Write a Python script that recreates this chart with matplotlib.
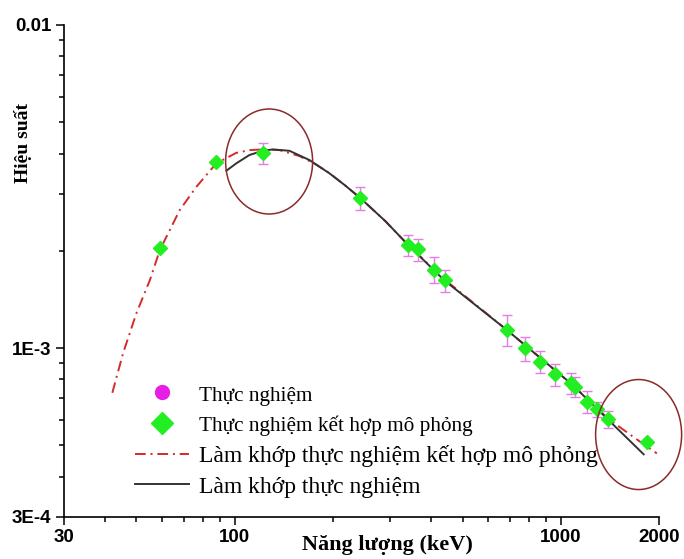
import matplotlib
matplotlib.use("Agg")
import matplotlib.pyplot as plt
from matplotlib.patches import Ellipse
from matplotlib.lines import Line2D
import numpy as np

# green diamonds: experiment combined with simulation (keV, efficiency)
E_comb = [59.0, 87.9, 122.0, 243.0, 341, 366, 409, 441, 685, 774, 861,
          957, 1078, 1109, 1204, 1292, 1395, 1837]
eff_comb = [2.04e-3, 3.77e-3, 4.01e-3, 2.91e-3, 2.08e-3, 2.02e-3, 1.75e-3,
            1.62e-3, 1.14e-3, 9.98e-4, 9.07e-4, 8.29e-4, 7.77e-4, 7.59e-4,
            6.82e-4, 6.46e-4, 6.02e-4, 5.13e-4]

# magenta circles: experiment, with relative uncertainty (%)
E_exp = [122.0, 243.0, 341, 366, 409, 441, 685, 774, 861, 957, 1078, 1109,
         1204, 1292, 1395]
eff_exp = [4.01e-3, 2.91e-3, 2.08e-3, 2.02e-3, 1.75e-3, 1.62e-3, 1.14e-3,
           9.98e-4, 9.07e-4, 8.29e-4, 7.77e-4, 7.59e-4, 6.82e-4, 6.46e-4,
           6.02e-4]
err_pct = [7.4, 8, 7.4, 8, 9, 8, 11, 8.4, 8, 8, 7.4, 7, 8, 5.5, 6]

# fitted curve: experiment + simulation (red dash-dot)
E_fit_comb = [42.2, 45.5, 50.0, 55.0, 59.0, 63.3, 67.9, 76.4, 87.9, 101.2,
              111.1, 122.1, 137.3, 158, 176, 195.3, 218, 242.9, 290, 340.5,
              438.7, 683.8, 1080.6, 1402, 1672, 1970]
eff_fit_comb = [7.27e-4, 9.63e-4, 1.281e-3, 1.623e-3, 2.011e-3, 2.319e-3,
                2.674e-3, 3.158e-3, 3.73e-3, 4.02e-3, 4.10e-3, 4.12e-3,
                4.10e-3, 3.93e-3, 3.72e-3, 3.48e-3, 3.19e-3, 2.913e-3,
                2.47e-3, 2.085e-3, 1.635e-3, 1.137e-3, 7.73e-4, 6.03e-4,
                5.30e-4, 4.72e-4]

# fitted curve: experiment only (black)
E_fit_exp = [94.4, 101.2, 111.1, 122.1, 131, 147.3, 169.6, 195.3, 218,
             242.9, 290, 340.5, 438.7, 683.8, 1080.6, 1402, 1795]
eff_fit_exp = [3.54e-3, 3.73e-3, 3.96e-3, 4.08e-3, 4.12e-3, 4.08e-3, 3.82e-3,
               3.475e-3, 3.19e-3, 2.913e-3, 2.47e-3, 2.085e-3, 1.623e-3,
               1.137e-3, 7.73e-4, 5.98e-4, 4.69e-4]

# highlighted regions (centre in data units, size in pixels)
circle_centres = [(127.6, 3.78e-3), (1732, 5.40e-4)]
circle_sizes = [(87, 105), (86, 110)]

labels = ["Thực nghiệm", "Thực nghiệm kết hợp mô phỏng",
          "Làm khớp thực nghiệm kết hợp mô phỏng", "Làm khớp thực nghiệm"]

x_ticks = [30, 100, 1000, 2000]
x_ticklabels = ["30", "100", "1000", "2000"]
y_ticks = [3e-4, 1e-3, 1e-2]
y_ticklabels = ["3E-4", "1E-3", "0.01"]

W, H = 684, 559
fig = plt.figure(figsize=(W / 100, H / 100), dpi=100)
ax = fig.add_axes([64 / W, 1 - 517 / H, 595 / W, 492 / H])

c_red = "#d42a2a"
c_green = "#22ee22"
c_mag = "#e61ee6"
c_err = "#e47ee4"
dashdot = (0, (5.5, 2.5, 1, 2.5))

ax.plot(E_fit_comb, eff_fit_comb, color=c_red, lw=1.4, linestyle=dashdot,
        zorder=2)
ax.plot(E_fit_exp, eff_fit_exp, color="#333333", lw=1.4, zorder=3)

err = np.array(eff_exp) * np.array(err_pct) / 100
ax.errorbar(E_exp, eff_exp, yerr=err, fmt="o", color=c_mag, ms=6,
            ecolor=c_err, elinewidth=1, capsize=3.5, capthick=1, zorder=4)
ax.plot(E_comb, eff_comb, "D", color=c_green, ms=7, mec=c_green, zorder=5)

ax.set_xscale("log")
ax.set_yscale("log")
ax.set_xlim(30, 2000)
ax.set_ylim(3e-4, 1e-2)

ax.set_xticks(x_ticks)
ax.set_xticklabels(x_ticklabels)
ax.set_xticks([40, 50, 60, 70, 80, 90, 200, 300, 400, 500, 600, 700, 800, 900],
              minor=True)
ax.set_xticklabels([], minor=True)
ax.set_yticks(y_ticks)
ax.set_yticklabels(y_ticklabels)
ax.set_yticks([4e-4, 5e-4, 6e-4, 7e-4, 8e-4, 9e-4, 2e-3, 3e-3, 4e-3, 5e-3,
               6e-3, 7e-3, 8e-3, 9e-3], minor=True)
ax.set_yticklabels([], minor=True)

for s in ["top", "right"]:
    ax.spines[s].set_visible(False)
for s in ["left", "bottom"]:
    ax.spines[s].set_linewidth(1.2)
ax.tick_params(which="major", direction="out", length=6, width=1.1, pad=3)
ax.tick_params(which="minor", direction="out", length=3.5, width=1.1)
for lab in ax.get_xticklabels() + ax.get_yticklabels():
    lab.set_fontfamily("Liberation Sans")
    lab.set_fontweight("bold")
for lab in ax.get_xticklabels():
    lab.set_fontsize(13.5)
for lab in ax.get_yticklabels():
    lab.set_fontsize(13.5)

fig.text(23 / W, 1 - 143 / H, "Hiệu suất", rotation=90, ha="center",
         va="center", family="Liberation Serif", weight="bold", fontsize=14)
fig.text(387 / W, 1 - 545 / H, "Năng lượng (keV)", ha="center",
         va="center", family="Liberation Serif", weight="bold", fontsize=16)

# ellipses around regions of interest
inv = fig.transFigure.inverted()
for (cx, cy), (w, h) in zip(circle_centres, circle_sizes):
    fx, fy = inv.transform(ax.transData.transform((cx, cy)))
    fig.add_artist(Ellipse((fx, fy), w / W, h / H, transform=fig.transFigure,
                           fill=False, edgecolor="#8b2a2a", lw=1.1))

handles = [
    Line2D([], [], ls="none", marker="o", color=c_mag, ms=10),
    Line2D([], [], ls="none", marker="D", color=c_green, ms=11),
    Line2D([], [], color=c_red, lw=1.4, linestyle=dashdot),
    Line2D([], [], color="#333333", lw=1.4),
]
leg = ax.legend(handles, labels, loc="upper left",
                bbox_to_anchor=(0.119, 0.27), frameon=False,
                prop={"family": "Liberation Serif", "size": 17},
                handlelength=2.3, handletextpad=0.4, labelspacing=0.38,
                borderpad=0, borderaxespad=0)
for t in leg.get_texts()[:2]:
    t.set_fontsize(15.3)

fig.savefig("out.png", dpi=100)
